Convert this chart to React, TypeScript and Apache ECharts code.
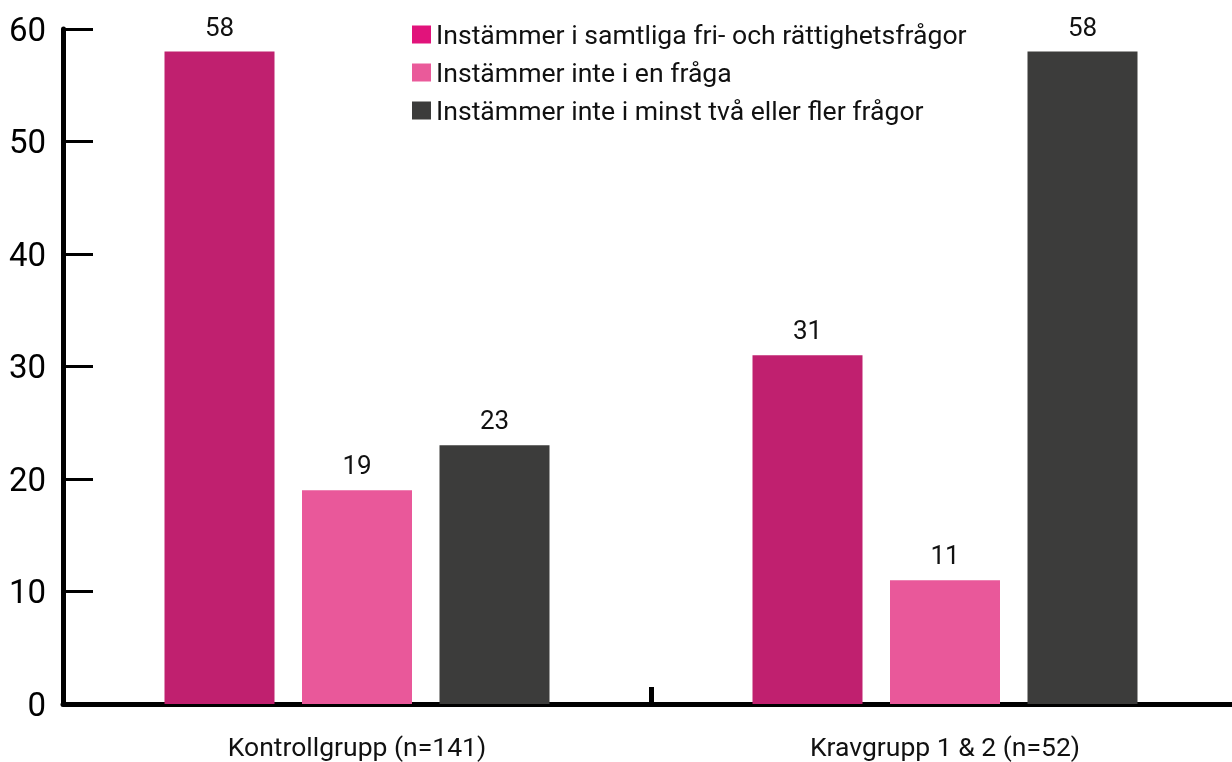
import React, { useEffect, useRef } from "react";
import * as echarts from "echarts";

const categories = ["Kontrollgrupp (n=141)", "Kravgrupp 1 & 2 (n=52)"];
const seriesNames = [
  "Instämmer i samtliga fri- och rättighetsfrågor",
  "Instämmer inte i en fråga",
  "Instämmer inte i minst två eller fler frågor",
];
const allAgree = [58, 31];
const oneDisagree = [19, 11];
const twoPlusDisagree = [23, 58];
const yTicks = [0, 10, 20, 30, 40, 50, 60];

const barColors = ["#C0206F", "#E9589A", "#3C3C3B"];
const legendColors = ["#E1137B", "#EA5A9A", "#3C3C3B"];
const FONT = "Roboto";

export default function App() {
  const ref = useRef<HTMLDivElement>(null);
  useEffect(() => {
    if (!ref.current) return;
    const chart = echarts.init(ref.current, undefined, { renderer: "svg" });
    const values = [allAgree, oneDisagree, twoPlusDisagree];
    chart.setOption({
      animation: false,
      textStyle: { fontFamily: FONT },
      grid: {
        left: 63,
        width: 1176,
        top: 29,
        bottom: 58,
        containLabel: false,
        outerBoundsMode: "none",
      },
      legend: {
        orient: "vertical",
        left: 412,
        top: 21,
        padding: 0,
        itemWidth: 19,
        itemHeight: 18,
        itemGap: 11,
        icon: "rect",
        textStyle: { fontFamily: FONT, fontSize: 26.6, color: "#111" },
        data: seriesNames.map((n, i) => ({ name: n, itemStyle: { color: legendColors[i] } })),
      },
      xAxis: {
        type: "category",
        data: categories,
        axisLine: { show: true, lineStyle: { color: "#000", width: 5 } },
        axisTick: { show: true, inside: true, length: 17, lineStyle: { color: "#000", width: 5 } },
        axisLabel: {
          color: "#111",
          fontSize: 26.5,
          lineHeight: 24,
          fontFamily: FONT,
          margin: 30,
        },
        splitLine: { show: false },
      },
      yAxis: {
        type: "value",
        min: yTicks[0],
        max: yTicks[yTicks.length - 1],
        interval: 10,
        axisLine: { show: true, lineStyle: { color: "#000", width: 5 } },
        axisTick: { show: true, inside: true, length: 30, lineStyle: { color: "#000", width: 3 } },
        axisLabel: { color: "#000", fontSize: 33, fontFamily: FONT, margin: 17 },
        splitLine: { show: false },
      },
      series: seriesNames.map((name, i) => ({
        name,
        type: "bar",
        data: values[i],
        barWidth: 110,
        barGap: "25%",
        itemStyle: { color: barColors[i] },
        label: {
          show: true,
          position: "top",
          distance: 12,
          color: "#111",
          fontSize: 26,
          fontFamily: FONT,
        },
      })),
    });
    return () => chart.dispose();
  }, []);
  return <div ref={ref} style={{ width: 1232, height: 762, position: "fixed", left: 0, top: 0 }} />;
}
